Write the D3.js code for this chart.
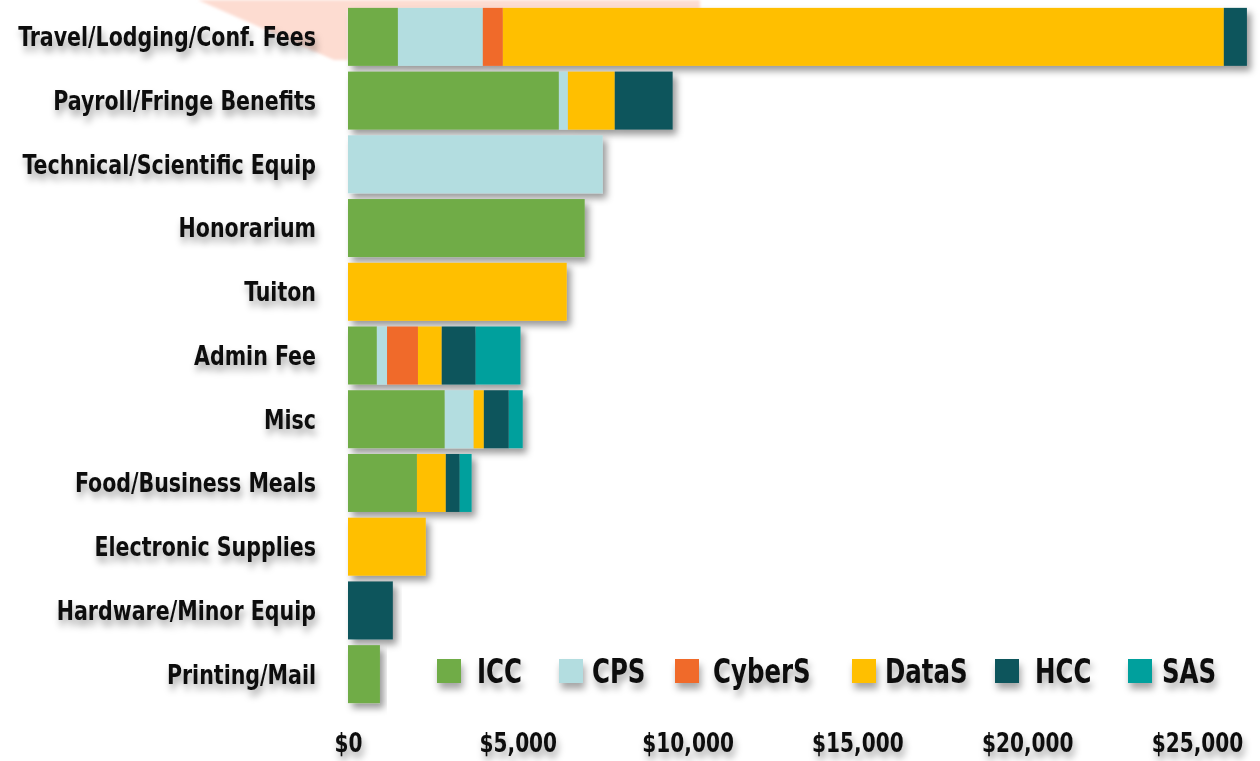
<!DOCTYPE html>
<html>
<head>
<meta charset="utf-8">
<script src="https://cdn.jsdelivr.net/npm/d3@7"></script>
<style>
  body { margin: 0; background: #fff; }
  svg { display: block; }
  text { font-family: "DejaVu Sans Condensed", "DejaVu Sans", sans-serif; font-weight: bold; fill: #111; }
</style>
</head>
<body>
<svg></svg>
<script>
const CATEGORIES = [
  'Travel/Lodging/Conf. Fees', 'Payroll/Fringe Benefits', 'Technical/Scientific Equip',
  'Honorarium', 'Tuiton', 'Admin Fee', 'Misc', 'Food/Business Meals',
  'Electronic Supplies', 'Hardware/Minor Equip', 'Printing/Mail'
];
const SERIES = ['ICC', 'CPS', 'CyberS', 'DataS', 'HCC', 'SAS'];
const COLORS = ['#70ac47', '#b3dde0', '#f06a2b', '#ffbf00', '#0d545b', '#02a09d'];

// one array per series, same order as CATEGORIES
const ICC    = [1470, 6210,    0, 6970,    0,  850, 2850, 2030,    0,    0, 940];
const CPS    = [2500,  265, 7500,    0,    0,  300,  850,    0,    0,    0,   0];
const CYBERS = [ 590,    0,    0,    0,    0,  910,    0,    0,    0,    0,   0];
const DATAS  = [21230, 1380,   0,    0, 6440,  700,  300,  850, 2290,    0,   0];
const HCC    = [ 680, 1705,    0,    0,    0, 1000,  735,  410,    0, 1320,   0];
const SAS    = [   0,    0,    0,    0,    0, 1320,  410,  350,    0,    0,   0];
const X_TICKS = [0, 5000, 10000, 15000, 20000, 25000];

const WIDTH = 1260, HEIGHT = 761;
const seriesValues = [ICC, CPS, CYBERS, DATAS, HCC, SAS];

const table = CATEGORIES.map((cat, i) => {
  const row = { category: cat };
  SERIES.forEach((s, j) => row[s] = seriesValues[j][i]);
  return row;
});
const stacked = d3.stack().keys(SERIES)(table);

const xScale = d3.scaleLinear().domain([0, 25000]).range([348, 1197]);
const yScale = d3.scaleBand()
  .domain(CATEGORIES)
  .range([5, 706])
  .paddingInner(0.09)
  .paddingOuter(0.045);
const color = d3.scaleOrdinal().domain(SERIES).range(COLORS);

const svg = d3.select('svg').attr('width', WIDTH).attr('height', HEIGHT);
const defs = svg.append('defs');

const shadow = defs.append('filter').attr('id', 'shadow')
  .attr('x', '-20%').attr('y', '-30%').attr('width', '140%').attr('height', '180%');
shadow.append('feDropShadow')
  .attr('dx', 4).attr('dy', 5).attr('stdDeviation', 3.5)
  .attr('flood-color', '#000').attr('flood-opacity', 0.4);

const textShadow = defs.append('filter').attr('id', 'textShadow')
  .attr('x', '-10%').attr('y', '-40%').attr('width', '120%').attr('height', '200%');
textShadow.append('feDropShadow')
  .attr('dx', 2).attr('dy', 6).attr('stdDeviation', 3.5)
  .attr('flood-color', '#000').attr('flood-opacity', 0.35);

const blur = defs.append('filter').attr('id', 'blur');
blur.append('feGaussianBlur').attr('stdDeviation', 1.5);

// faint pink glow at the top
svg.append('polygon')
  .attr('points', '198,0 700,0 700,10 348,10 348,60 334,60')
  .attr('fill', '#fddcd1')
  .attr('filter', 'url(#blur)');

// bars
const bars = svg.append('g');
CATEGORIES.forEach((cat, i) => {
  const g = bars.append('g').attr('filter', 'url(#shadow)');
  g.selectAll('rect')
    .data(stacked.map(layer => ({ key: layer.key, d: layer[i] })).filter(o => o.d[1] > o.d[0]))
    .enter()
    .append('rect')
    .attr('x', o => xScale(o.d[0]))
    .attr('width', o => xScale(o.d[1]) - xScale(o.d[0]))
    .attr('y', yScale(cat))
    .attr('height', yScale.bandwidth())
    .attr('fill', o => color(o.key));
});

// category labels (condensed by a horizontal squeeze)
svg.append('g')
  .attr('filter', 'url(#textShadow)')
  .selectAll('text')
  .data(CATEGORIES)
  .enter()
  .append('text')
  .attr('transform', d => `translate(316, ${yScale(d) + yScale.bandwidth() / 2}) scale(0.88, 1)`)
  .attr('dy', '0.36em')
  .attr('text-anchor', 'end')
  .style('font-size', '26px')
  .text(d => d);

// x axis labels
const axis = svg.append('g')
  .attr('transform', 'translate(0, 743)')
  .attr('filter', 'url(#textShadow)')
  .call(d3.axisBottom(xScale)
    .tickValues(X_TICKS)
    .tickSize(0)
    .tickFormat(d => '$' + d3.format(',')(d)));
axis.select('.domain').remove();
axis.selectAll('text')
  .attr('y', 0)
  .attr('dy', '0.36em')
  .attr('transform', 'scale(0.86, 1)')
  .style('font-size', '26px')
  .style('font-family', null);

// legend
const LEGEND_X = [437, 559, 675, 852, 995, 1128];
const LEGEND_TEXT_DX = [40, 33, 38, 33, 40, 34];
const legend = svg.append('g').attr('filter', 'url(#textShadow)');
const items = legend.selectAll('g')
  .data(SERIES)
  .enter()
  .append('g')
  .attr('transform', (d, i) => `translate(${LEGEND_X[i]}, 659)`);
items.append('rect')
  .attr('width', 24).attr('height', 24)
  .attr('fill', d => color(d));
items.append('text')
  .attr('transform', (d, i) => `translate(${LEGEND_TEXT_DX[i]}, 12) scale(0.8, 1)`)
  .attr('dy', '0.36em')
  .style('font-size', '34px')
  .text(d => d);
</script>
</body>
</html>
